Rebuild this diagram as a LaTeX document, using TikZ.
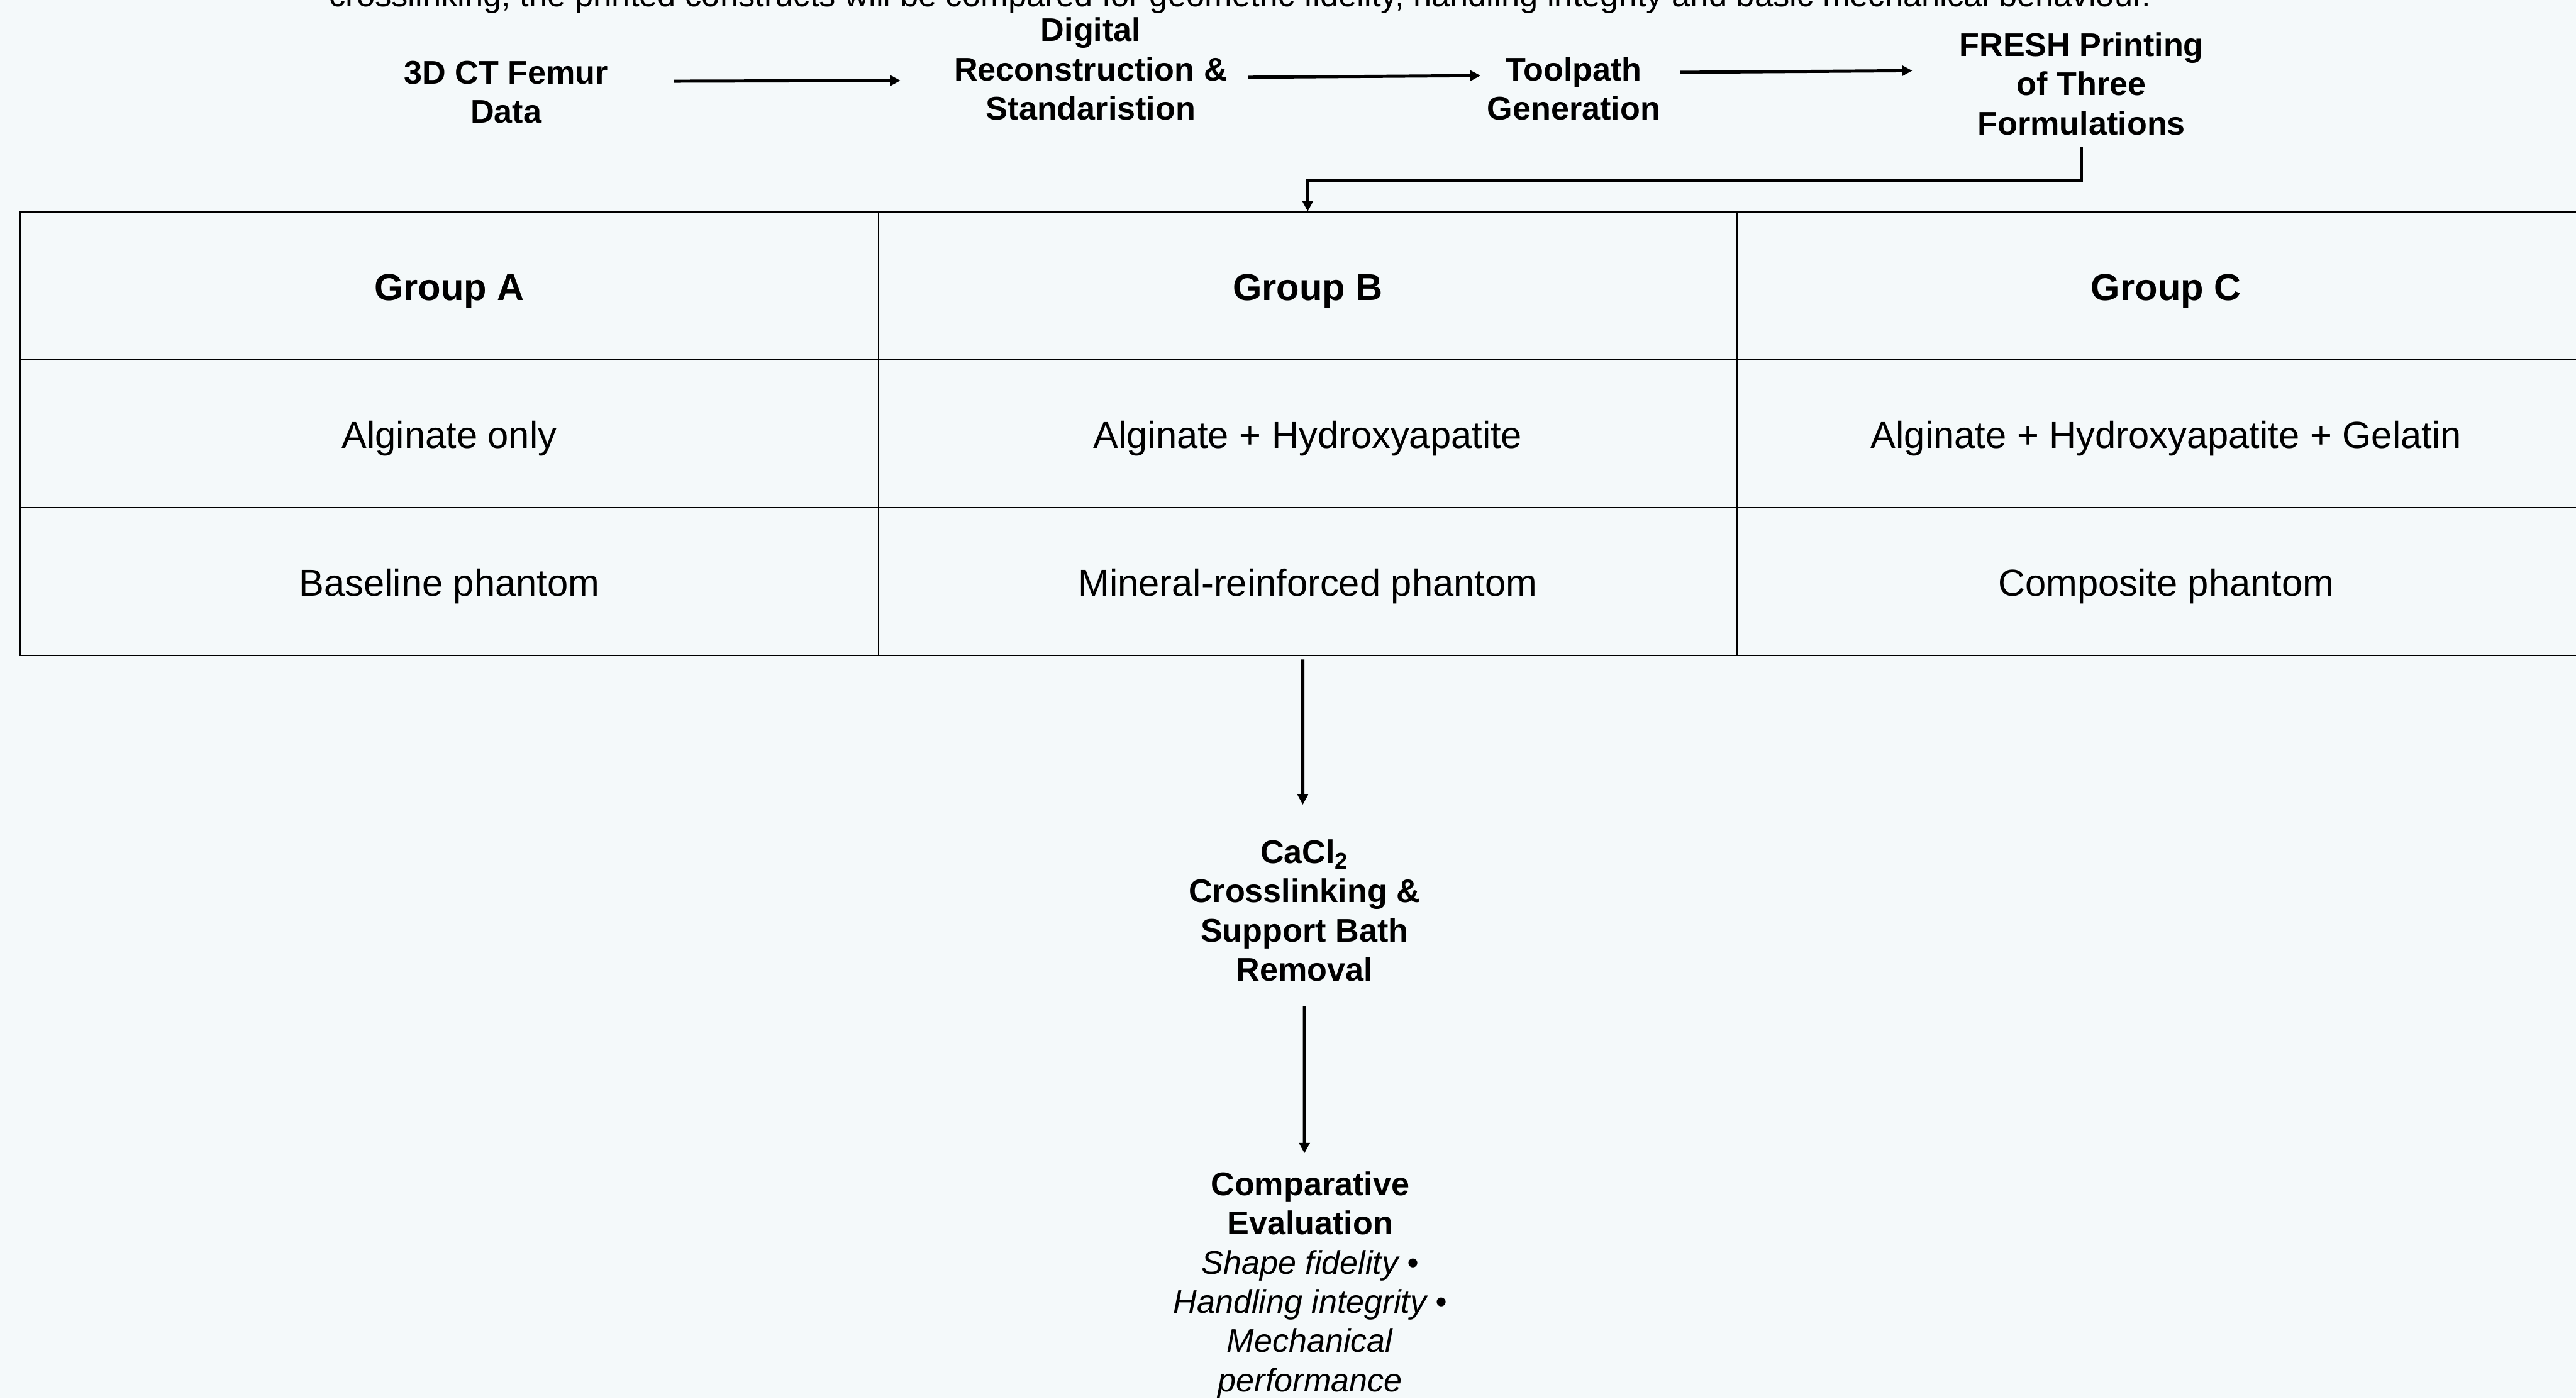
\documentclass[tikz,border=0pt]{standalone}
\usepackage{fontspec}
\setmainfont{Liberation Sans}
\usetikzlibrary{arrows.meta}
\definecolor{paper}{RGB}{244,249,250}

\begin{document}
\begin{tikzpicture}[x=0.05cm, y=-0.05cm,
    stage/.style={align=center, inner sep=0pt, font=\fontsize{28.4}{34}\selectfont\bfseries},
    cell/.style={draw, line width=1pt, minimum width=26.125cm, minimum height=4.5cm, inner sep=0pt,
      text height=25pt, text depth=0pt, font=\fontsize{32.5}{39}\selectfont},
    flow/.style={line width=2.7pt, -{Triangle[width=9pt,length=9pt]}}]
  \fill[paper] (0,0) rectangle (1568,851);
  \useasboundingbox (0,0) rectangle (1568,851);

  % caption, cut off at the top edge
  \node[anchor=base, inner sep=0pt, font=\fontsize{28.6}{34}\selectfont] (intro) at (755,4)
    {crosslinking, the printed constructs will be compared for geometric fidelity, handling integrity and basic mechanical behaviour.};

  % pipeline
  \node[stage] (scan) at (308,56) {3D CT Femur\\Data};
  \node[stage] (recon) at (664,42) {Digital\\Reconstruction \&\\Standaristion};
  \node[stage] (tool) at (958,54) {Toolpath\\Generation};
  \node[stage] (fresh) at (1267,51) {FRESH Printing\\of Three\\Formulations};

  \draw[flow] ([xshift=2cm,yshift=0.33cm]scan.east) -- ([xshift=-1.63cm,yshift=-0.35cm]recon.west);
  \draw[flow] ([xshift=0.63cm,yshift=-0.25cm]recon.east) -- ([xshift=-0.2cm,yshift=0.4cm]tool.west);
  \draw[flow] ([xshift=0.6cm,yshift=0.5cm]tool.east) -- ([xshift=-1.43cm,yshift=0.4cm]fresh.west);

  % the three groups
  \foreach \c/\x/\grp/\mat/\role in {A/273.5/Group A/Alginate only/Baseline phantom,
      B/796/Group B/Alginate + Hydroxyapatite/Mineral-reinforced phantom,
      C/1318.5/Group C/Alginate + Hydroxyapatite + Gelatin/Composite phantom} {
    \node[cell, font=\fontsize{32.5}{39}\selectfont\bfseries] (grp\c) at (\x,174) {\grp};
    \node[cell] (mat\c) at (\x,264) {\mat};
    \node[cell] (role\c) at (\x,354) {\role};
  };

  \draw[flow] ([yshift=-0.35cm]fresh.south) -- ++(0,20.5) -| (grpB.north);

  % post-processing and evaluation
  \node[stage] (cacl) at (794,554) {CaCl\textsubscript{2}\\Crosslinking \&\\Support Bath\\Removal};
  \node[align=center, inner sep=0pt, font=\fontsize{28.4}{34}\selectfont] (eval) at (797.5,782)
    {\textbf{Comparative}\\\textbf{Evaluation}\\\textit{Shape fidelity •}\\\textit{Handling integrity •}\\\textit{Mechanical}\\\textit{performance}};

  \draw[flow] ([xshift=-0.15cm,yshift=-0.1cm]roleB.south) -- ([xshift=-0.05cm,yshift=1.05cm]cacl.north);
  \draw[flow] ([yshift=-0.75cm]cacl.south) -- ([xshift=-0.175cm,yshift=0.55cm]eval.north);
\end{tikzpicture}
\end{document}
